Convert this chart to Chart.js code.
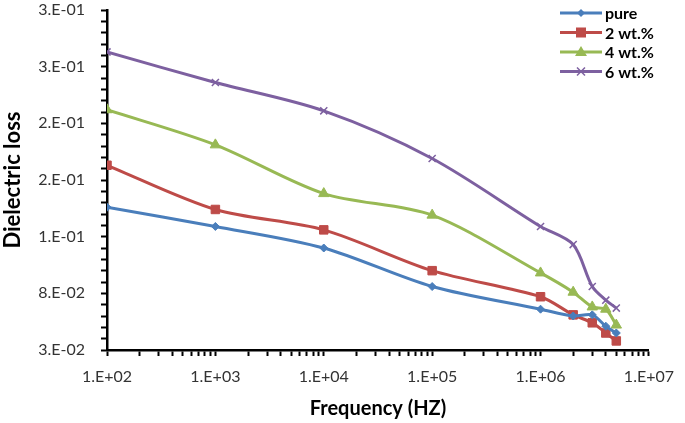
<!DOCTYPE html>
<html>
<head>
<meta charset="utf-8">
<script src="https://cdn.jsdelivr.net/npm/chart.js@4/dist/chart.umd.min.js"></script>
<style>
  html, body { margin: 0; padding: 0; background: #fff; }
  #wrap { width: 685px; height: 423px; }
</style>
</head>
<body>
<div id="wrap"><canvas id="lossChart"></canvas></div>
<script>
// frequency (Hz)
const frequency = [1e2, 1e3, 1e4, 1e5, 1e6, 2e6, 3e6, 4e6, 5e6];

const pure = [0.156, 0.139, 0.120, 0.086, 0.066, 0.060, 0.061, 0.051, 0.045];
const wt2  = [0.193, 0.154, 0.136, 0.100, 0.077, 0.061, 0.054, 0.045, 0.038];
const wt4  = [0.242, 0.211, 0.168, 0.149, 0.098, 0.081, 0.068, 0.066, 0.052];
const wt6  = [0.293, 0.266, 0.241, 0.199, 0.139, 0.123, 0.086, 0.074, 0.067];

const seriesNames = ["pure", "2 wt.%", "4 wt.%", "6 wt.%"];

// labelled ticks
const xMajorTicks = [1e2, 1e3, 1e4, 1e5, 1e6, 1e7];
const yMajorTicks = [0.03, 0.08, 0.13, 0.18, 0.23, 0.28, 0.33];

const FONT = "Lato, 'Open Sans', sans-serif";

function toPoints(ys) {
    return frequency.map((f, i) => ({x: f, y: ys[i]}));
}

function excelExp(v) {
    let s = v.toExponential(0);          // e.g. "3e-2"
    let [m, e] = s.split("e");
    let n = parseInt(e, 10);
    let sign = n < 0 ? "-" : "+";
    let abs = String(Math.abs(n)).padStart(2, "0");
    return m + ".E" + sign + abs;
}

const styles = [
    {color: "#4A7EBB", point: "rectRot", r: 4},
    {color: "#BE4B48", point: "rect", r: 6},
    {color: "#98B954", point: "triangle", r: 6},
    {color: "#7D60A0", point: "crossRot", r: 5}
];

const datasets = [pure, wt2, wt4, wt6].map((ys, i) => ({
    label: seriesNames[i],
    data: toPoints(ys),
    borderColor: styles[i].color,
    backgroundColor: styles[i].color,
    borderWidth: 3,
    pointStyle: styles[i].point,
    pointRadius: styles[i].r,
    pointBorderWidth: styles[i].point === "crossRot" ? 1.5 : 1,
    pointBackgroundColor: styles[i].color,
    pointBorderColor: styles[i].color,
    tension: 0.3,
    fill: false
}));

// excel style legend in the top right corner
const cornerLegend = {
    id: "cornerLegend",
    afterDraw(chart) {
        const ctx = chart.ctx;
        ctx.save();
        chart.data.datasets.forEach((ds, i) => {
            const y = 13 + i * 19.5;
            const x0 = 560, x1 = 602;
            ctx.strokeStyle = ds.borderColor;
            ctx.lineWidth = 3;
            ctx.beginPath();
            ctx.moveTo(x0, y);
            ctx.lineTo(x1, y);
            ctx.stroke();
            const cx = (x0 + x1) / 2;
            ctx.fillStyle = ds.borderColor;
            const st = styles[i];
            ctx.beginPath();
            if (st.point === "rectRot") {
                ctx.moveTo(cx, y - 4); ctx.lineTo(cx + 4, y); ctx.lineTo(cx, y + 4); ctx.lineTo(cx - 4, y);
                ctx.closePath(); ctx.fill();
            } else if (st.point === "rect") {
                ctx.fillRect(cx - 5, y - 5, 10, 10);
            } else if (st.point === "triangle") {
                ctx.moveTo(cx, y - 6); ctx.lineTo(cx + 6, y + 4); ctx.lineTo(cx - 6, y + 4);
                ctx.closePath(); ctx.fill();
            } else {
                ctx.lineWidth = 1.5;
                ctx.moveTo(cx - 4, y - 4); ctx.lineTo(cx + 4, y + 4);
                ctx.moveTo(cx + 4, y - 4); ctx.lineTo(cx - 4, y + 4);
                ctx.stroke();
            }
            ctx.fillStyle = "#000";
            ctx.font = "bold 16px " + FONT;
            ctx.textBaseline = "middle";
            ctx.textAlign = "left";
            ctx.fillText(ds.label, 605, y + 1);
        });
        ctx.restore();
    }
};

new Chart("lossChart", {
    type: "line",
    data: {datasets: datasets},
    options: {
        responsive: true,
        maintainAspectRatio: false,
        animation: false,
        layout: {padding: {top: 0, right: 30, left: 0, bottom: 0}},
        plugins: {
            legend: {display: false},
            tooltip: {enabled: false}
        },
        scales: {
            x: {
                type: "logarithmic",
                min: 1e2,
                max: 1e7,
                afterBuildTicks(scale) {
                    let t = [];
                    for (let d = 2; d < 7; d++) {
                        for (let m = 1; m < 10; m++) t.push({value: m * Math.pow(10, d)});
                    }
                    t.push({value: 1e7});
                    scale.ticks = t;
                },
                afterFit(scale) { scale.height = 73; },
                ticks: {
                    autoSkip: false,
                    maxRotation: 0,
                    padding: 11,
                    color: "#333",
                    font: {family: FONT, size: 16},
                    callback(v) {
                        return xMajorTicks.some(m => Math.abs(m - v) / m < 1e-9) ? excelExp(v) : "";
                    }
                },
                grid: {
                    drawOnChartArea: false,
                    drawTicks: true,
                    tickLength: 6,
                    tickColor: "#000",
                    tickWidth: 2
                },
                border: {color: "#000", width: 2.5},
                title: {
                    display: true,
                    text: "Frequency (HZ)",
                    color: "#000",
                    padding: {top: 4, bottom: 2},
                    font: {family: FONT, size: 20, weight: "bold"}
                }
            },
            y: {
                type: "linear",
                min: 0.03,
                max: 0.33,
                afterBuildTicks(scale) {
                    let t = [];
                    for (let k = 3; k <= 33; k++) t.push({value: k / 100});
                    scale.ticks = t;
                },
                afterFit(scale) {
                    scale.width = 107;
                    scale.paddingTop = 10;
                },
                ticks: {
                    autoSkip: false,
                    padding: 16,
                    color: "#333",
                    font: {family: FONT, size: 16},
                    callback(v) {
                        return yMajorTicks.some(m => Math.abs(m - v) < 1e-6) ? excelExp(v) : "";
                    }
                },
                grid: {
                    drawOnChartArea: false,
                    drawTicks: true,
                    tickLength: 6,
                    tickColor: "#000",
                    tickWidth: 2
                },
                border: {color: "#000", width: 2.5},
                title: {
                    display: true,
                    text: "Dielectric loss",
                    color: "#000",
                    padding: {top: 0, bottom: 4},
                    font: {family: FONT, size: 22, weight: "bold"}
                }
            }
        }
    },
    plugins: [cornerLegend]
});
</script>
</body>
</html>
